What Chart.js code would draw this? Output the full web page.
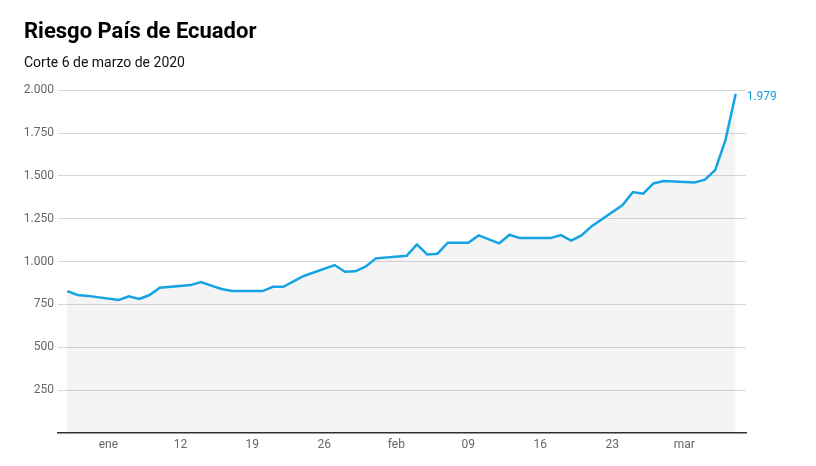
<!DOCTYPE html>
<html>
<head>
<meta charset="utf-8">
<script src="https://cdn.jsdelivr.net/npm/chart.js@4"></script>
<style>
  html, body { margin: 0; padding: 0; background: #fff; }
  #wrap { width: 816px; height: 466px; }
</style>
</head>
<body>
<div id="wrap"><canvas id="riesgoChart" width="816" height="466"></canvas></div>
<script>
// riesgo pais (puntos), dias habiles + algun dia suelto que aparece en la grafica
var fechas = [
    '2020-01-01', '2020-01-02', '2020-01-03', '2020-01-06', '2020-01-07', '2020-01-08', '2020-01-09', '2020-01-10',
    '2020-01-13', '2020-01-14', '2020-01-15', '2020-01-16', '2020-01-17',
    '2020-01-20', '2020-01-21', '2020-01-22', '2020-01-23', '2020-01-24',
    '2020-01-27', '2020-01-28', '2020-01-29', '2020-01-30', '2020-01-31',
    '2020-02-03', '2020-02-04', '2020-02-05', '2020-02-06', '2020-02-07', '2020-02-09',
    '2020-02-10', '2020-02-11', '2020-02-12', '2020-02-13', '2020-02-14',
    '2020-02-17', '2020-02-18', '2020-02-19', '2020-02-20', '2020-02-21',
    '2020-02-24', '2020-02-25', '2020-02-26', '2020-02-27', '2020-02-28',
    '2020-03-02', '2020-03-03', '2020-03-04', '2020-03-05', '2020-03-06'
];
var riesgo = [
    828, 805, 800, 776, 797, 782, 805, 848,
    863, 881, 860, 840, 828,
    828, 853, 853, 885, 916,
    980, 941, 943, 970, 1019,
    1034, 1100, 1042, 1046, 1110, 1110,
    1153, 1130, 1106, 1157, 1137,
    1137, 1155, 1122, 1153, 1207,
    1330, 1406, 1396, 1456, 1470,
    1462, 1478, 1534, 1709, 1979
];
var tickFechas = ['2020-01-05', '2020-01-12', '2020-01-19', '2020-01-26', '2020-02-02', '2020-02-09', '2020-02-16', '2020-02-23', '2020-03-01'];
var tickLabels = ['ene', '12', '19', '26', 'feb', '09', '16', '23', 'mar'];

function diaDe(f) {
    var p = f.split('-');
    return (Date.UTC(+p[0], +p[1] - 1, +p[2]) - Date.UTC(2020, 0, 1)) / 86400000;
}
function fmt(n) {
    return String(n).replace(/\B(?=(\d{3})+(?!\d))/g, '.');
}

var azul = '#14a3e3';
var puntos = fechas.map(function (f, i) { return { x: diaDe(f), y: riesgo[i] }; });
var tickDias = tickFechas.map(diaDe);

var ultimoValor = {
    id: 'ultimoValor',
    afterDatasetsDraw: function (chart) {
        var meta = chart.getDatasetMeta(0);
        var p = meta.data[meta.data.length - 1];
        var ctx = chart.ctx;
        ctx.save();
        ctx.font = '12px Roboto';
        ctx.fillStyle = azul;
        ctx.textAlign = 'left';
        ctx.textBaseline = 'middle';
        ctx.fillText(fmt(riesgo[riesgo.length - 1]), p.x + 11, p.y + 3);
        ctx.restore();
    }
};

Chart.defaults.font.family = 'Roboto';

new Chart(document.getElementById('riesgoChart').getContext('2d'), {
    type: 'line',
    data: {
        datasets: [{
            label: 'Riesgo País',
            data: puntos,
            borderColor: azul,
            borderWidth: 2.5,
            backgroundColor: 'rgba(0, 0, 0, 0.045)',
            fill: 'origin',
            pointRadius: 0,
            tension: 0
        }]
    },
    options: {
        responsive: false,
        animation: false,
        layout: { padding: { left: 24, right: 70, top: 0, bottom: 0 } },
        plugins: {
            legend: { display: false },
            tooltip: { enabled: false },
            title: {
                display: true,
                text: 'Riesgo País de Ecuador',
                align: 'start',
                color: '#000',
                font: { size: 22, weight: 'bold' },
                padding: { top: 19, bottom: 2 }
            },
            subtitle: {
                display: true,
                text: 'Corte 6 de marzo de 2020',
                align: 'start',
                color: '#111',
                font: { size: 14 },
                padding: { top: 8, bottom: 18 }
            }
        },
        scales: {
            x: {
                type: 'linear',
                min: -0.9,
                max: 66,
                afterBuildTicks: function (scale) {
                    scale.ticks = tickDias.map(function (d) { return { value: d }; });
                },
                afterFit: function (scale) { scale.height = 33; },
                ticks: {
                    color: '#666',
                    font: { size: 12 },
                    padding: 5,
                    autoSkip: false,
                    maxRotation: 0,
                    callback: function (v, i) { return tickLabels[i]; }
                },
                grid: { display: false, drawTicks: false },
                border: { display: true, color: '#333', width: 1.5 }
            },
            y: {
                min: 0,
                max: 2000,
                afterFit: function (scale) { scale.width = 34; },
                ticks: {
                    stepSize: 250,
                    color: '#666',
                    font: { size: 12 },
                    padding: 4,
                    callback: function (v) { return v === 0 ? '' : fmt(v); }
                },
                grid: {
                    drawTicks: false,
                    color: function (c) { return c.tick && c.tick.value === 0 ? 'rgba(0,0,0,0)' : '#d9d9d9'; }
                },
                border: { display: false }
            }
        }
    },
    plugins: [ultimoValor]
});
</script>
</body>
</html>
